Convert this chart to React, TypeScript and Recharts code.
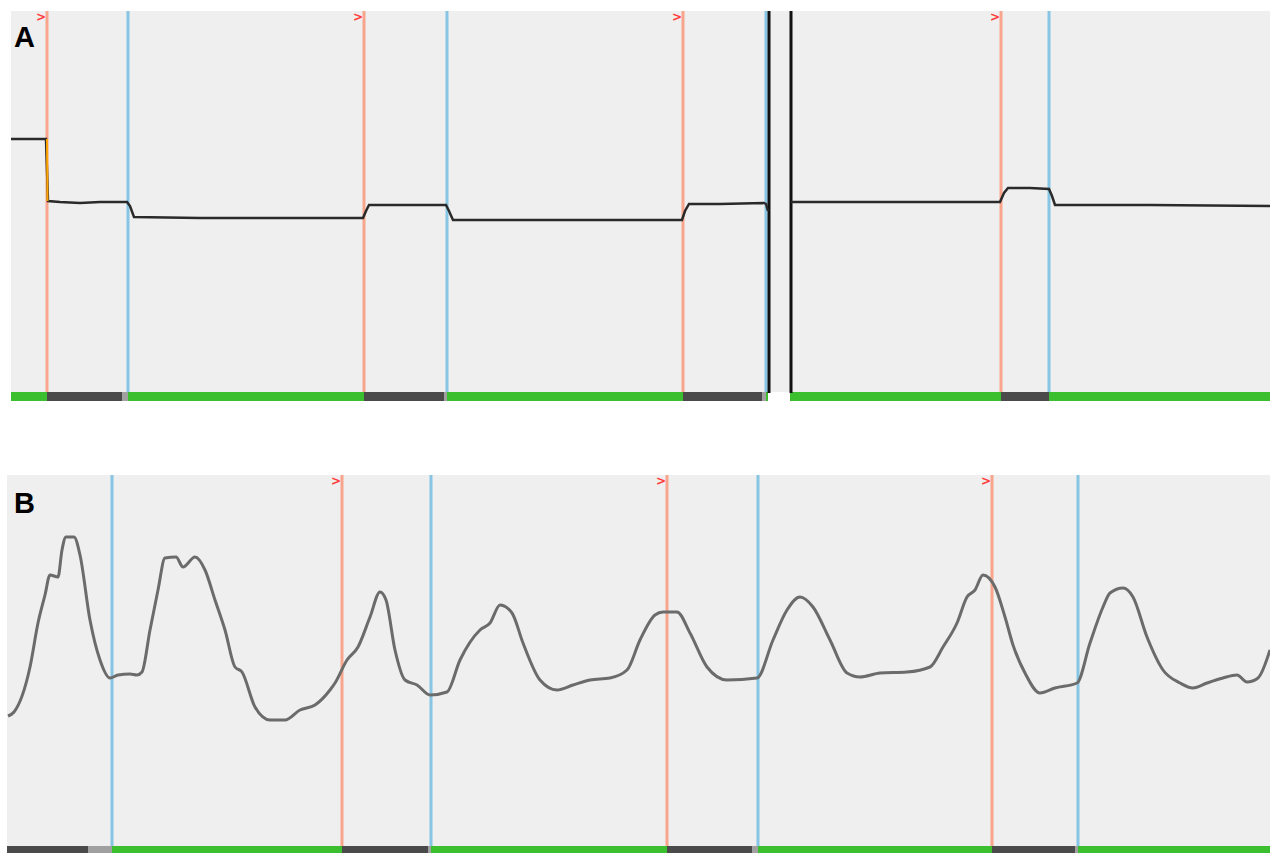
import { ComposedChart, Line, XAxis, YAxis, ReferenceLine, ReferenceArea } from 'recharts';

// Panel A: frame index vs signal level (step-like trace, recording break at ~780)
const panelATimes = [11, 46, 48, 60, 80, 100, 127, 130, 134, 200, 300, 363, 366, 369, 400, 446, 449, 453, 520, 600, 682, 685, 689, 720, 764, 766, 768, 780, 791, 900, 1000, 1004, 1008, 1030, 1049, 1052, 1055, 1150, 1270];
const panelAValues: (number | null)[] = [262, 262, 200, 199, 198, 199, 199, 195, 184, 183, 183, 183, 190, 196, 196, 196, 190, 181, 181, 181, 181, 190, 197, 197, 198, 197, 190, null, 199, 199, 199, 208, 213, 213, 212, 205, 196, 196, 195];
// the short orange drop at the first stimulus
const panelAJumpTimes = [47, 47.5];
const panelAJumpValues = [262, 200];

// Panel B: frame index vs signal level (oscillating trace)
const panelBTimes = [8, 14, 30, 38, 45, 50, 58, 62, 66, 74, 80, 90, 100, 110, 118, 130, 137, 142, 150, 158, 165, 176, 183, 195, 205, 215, 225, 235, 242, 255, 270, 285, 300, 315, 330, 335, 347, 358, 370, 380, 386, 395, 405, 417, 430, 447, 460, 480, 490, 500, 512, 523, 540, 557, 573, 590, 610, 627, 640, 655, 663, 677, 690, 707, 727, 757, 773, 787, 800, 813, 830, 847, 860, 880, 907, 930, 943, 957, 967, 975, 983, 995, 1005, 1013, 1025, 1040, 1055, 1077, 1090, 1103, 1110, 1123, 1133, 1147, 1163, 1180, 1193, 1207, 1223, 1237, 1247, 1258, 1270];
const panelBValues = [137, 141, 186, 230, 258, 278, 276, 303, 316, 316, 298, 233, 193, 175, 178, 179, 178, 181, 223, 263, 295, 296, 286, 296, 283, 253, 223, 186, 181, 146, 133, 133, 143, 148, 163, 170, 193, 206, 236, 261, 253, 203, 173, 168, 158, 161, 193, 223, 230, 248, 240, 210, 173, 163, 168, 173, 175, 183, 213, 238, 241, 241, 220, 186, 173, 175, 213, 243, 256, 246, 213, 180, 176, 180, 181, 186, 206, 230, 256, 263, 278, 266, 236, 208, 180, 160, 165, 170, 210, 246, 260, 265, 256, 216, 183, 170, 165, 170, 175, 178, 171, 175, 203];

// stimulus onsets (orange) and offsets (blue)
const panelAOnsets = [47, 364, 683, 1001];
const panelAOffsets = [128, 447, 766, 1049];
const panelABreaks = [769, 791];
const panelBOnsets = [342, 667, 992];
const panelBOffsets = [112, 431, 758, 1078];

// state bar under each trace: [start, end, state]
type Seg = [number, number, 'go' | 'hold' | 'wait' | 'none'];
const panelAStates: Seg[] = [
  [11, 47, 'go'], [47, 122, 'hold'], [122, 128, 'wait'], [128, 364, 'go'],
  [364, 444, 'hold'], [444, 447, 'wait'], [447, 683, 'go'], [683, 762, 'hold'],
  [762, 766, 'wait'], [766, 768, 'go'], [768, 790, 'none'], [790, 1001, 'go'],
  [1001, 1049, 'hold'], [1049, 1270, 'go'],
];
const panelBStates: Seg[] = [
  [7, 88, 'hold'], [88, 112, 'wait'], [112, 342, 'go'], [342, 428, 'hold'],
  [428, 431, 'wait'], [431, 667, 'go'], [667, 752, 'hold'], [752, 758, 'wait'],
  [758, 992, 'go'], [992, 1075, 'hold'], [1075, 1078, 'wait'], [1078, 1270, 'go'],
];

const STATE_COLORS = { go: '#3cbf2e', hold: '#4a4a4a', wait: '#a0a0a0', none: '#ffffff' };
const ONSET = '#f8a58c';
const OFFSET = '#86c6e4';
const PANEL_BG = '#efefef';

const dataA = panelATimes.map((t, i) => ({ t, v: panelAValues[i] }));
const jumpA = panelAJumpTimes.map((t, i) => ({ t, j: panelAJumpValues[i] }));
const dataB = panelBTimes.map((t, i) => ({ t, v: panelBValues[i] }));

function MarkLabel(props: any) {
  const { viewBox } = props;
  if (!viewBox) return null;
  return (
    <text x={viewBox.x - 11} y={viewBox.y + 10} fill="#ff3b3b" fontSize={12} fontWeight="bold" fontFamily="DejaVu Sans">
      &gt;
    </text>
  );
}

function Panel({ left, top, width, height, x0, barH, data, line, type, strokeW, onsets, offsets, breaks, states, extra }: any) {
  return (
    <div style={{ position: 'absolute', left, top }}>
      <ComposedChart width={width} height={height} margin={{ top: 0, right: 0, bottom: 0, left: 0 }}>
        <XAxis type="number" dataKey="t" domain={[x0, 1270]} hide allowDataOverflow />
        <YAxis type="number" domain={[0, height]} hide allowDataOverflow />
        <ReferenceArea x1={x0} x2={1270} y1={0} y2={height} fill={PANEL_BG} fillOpacity={1} stroke="none" />
        {states.map(([a, b, s]: Seg) => (
          <ReferenceArea key={`s${a}`} x1={a} x2={b} y1={0} y2={barH} fill={STATE_COLORS[s]} fillOpacity={1} stroke="none" />
        ))}
        {onsets.map((x: number) => (
          <ReferenceLine key={`o${x}`} segment={[{ x, y: height }, { x, y: barH }]} stroke={ONSET} strokeWidth={3} label={<MarkLabel />} />
        ))}
        {offsets.map((x: number) => (
          <ReferenceLine key={`f${x}`} segment={[{ x, y: height }, { x, y: barH }]} stroke={OFFSET} strokeWidth={3} />
        ))}
        {(breaks || []).map((x: number) => (
          <ReferenceLine key={`b${x}`} segment={[{ x, y: height }, { x, y: barH - 1 }]} stroke="#111" strokeWidth={3} />
        ))}
        <Line data={data} dataKey="v" type={type} stroke={line} strokeWidth={strokeW} dot={false} isAnimationActive={false} connectNulls={false} />
        {extra}
      </ComposedChart>
    </div>
  );
}

export default function App() {
  return (
    <div style={{ position: 'absolute', left: 0, top: 0, width: 1270, height: 853, background: '#fff', overflow: 'hidden', fontFamily: '"Liberation Sans", Arial, sans-serif' }}>
      <Panel
        left={11} top={11} width={1259} height={390} x0={11} barH={9}
        data={dataA} line="#2a2a2a" type="linear" strokeW={2.5}
        onsets={panelAOnsets} offsets={panelAOffsets} breaks={panelABreaks} states={panelAStates}
        extra={<Line data={jumpA} dataKey="j" type="linear" stroke="#ffa500" strokeWidth={2} dot={false} isAnimationActive={false} />}
      />
      <Panel
        left={7} top={475} width={1263} height={378} x0={7} barH={7}
        data={dataB} line="#6b6b6b" type="monotone" strokeW={3}
        onsets={panelBOnsets} offsets={panelBOffsets} states={panelBStates}
      />
      <div style={{ position: 'absolute', left: 14, top: 21, fontSize: 29, fontWeight: 'bold', color: '#000' }}>A</div>
      <div style={{ position: 'absolute', left: 14, top: 487, fontSize: 29, fontWeight: 'bold', color: '#000' }}>B</div>
    </div>
  );
}
